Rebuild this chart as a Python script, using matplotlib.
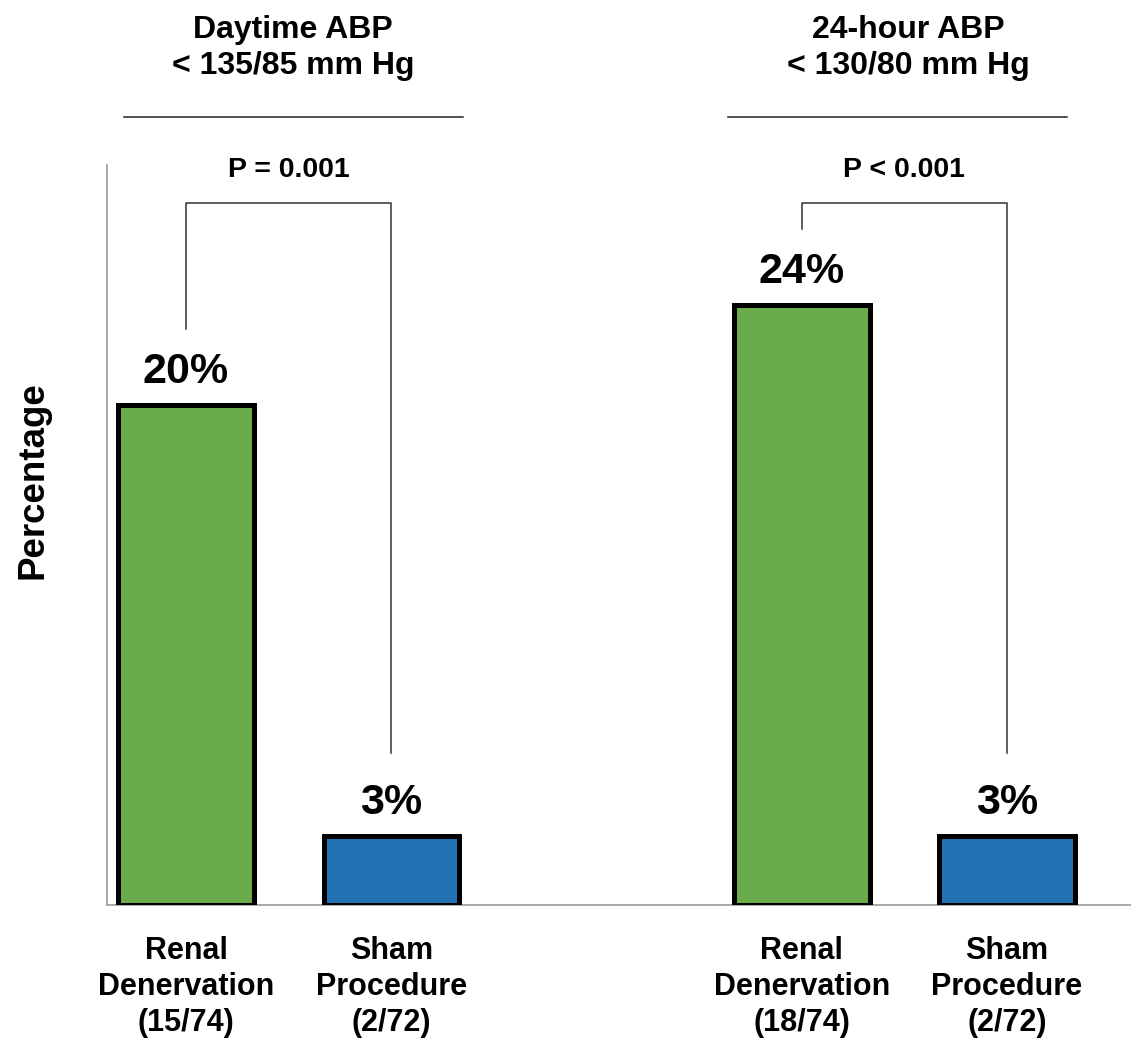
import numpy as np
import matplotlib
matplotlib.use('Agg')
import matplotlib.pyplot as plt

plt.rcParams['font.family'] = ['Liberation Sans', 'DejaVu Sans']
plt.rcParams['font.weight'] = 'bold'

# responders / patients per arm
groups = ['Daytime ABP\n< 135/85 mm Hg', '24-hour ABP\n< 130/80 mm Hg']
arms = ['Renal\nDenervation', 'Sham\nProcedure']
responders = [[15, 2], [18, 2]]
patients = [[74, 72], [74, 72]]
p_values = ['P = 0.001', 'P < 0.001']

colors = ['#6aac4c', '#2272b3']
positions = [[0, 1], [3, 4]]
rule_extent = [(-0.30, 1.35), (2.64, 4.29)]

fig = plt.figure(figsize=(11.31, 10.38), dpi=100)
ax = fig.add_axes([107/1131, 1 - 905/1038, 1024/1131, 740/1038])

ticks, ticklabels = [], []
for g in range(len(groups)):
    pct = [100 * r / n for r, n in zip(responders[g], patients[g])]
    x = positions[g]
    ax.bar(x, pct, width=0.66, color=colors, edgecolor='black', linewidth=3.6, zorder=3)
    for xi, v in zip(x, pct):
        ax.annotate(f'{v:.0f}%', (xi, v), xytext=(0, 16), textcoords='offset points',
                    ha='center', va='baseline', fontsize=31, fontweight='bold')
    for a in range(len(arms)):
        ticks.append(x[a])
        ticklabels.append(f'{arms[a]}\n({responders[g][a]}/{patients[g][a]})')

    # significance bracket
    top = 28.45
    ax.plot([x[0], x[0], x[1], x[1]], [pct[0] + 3.1, top, top, pct[1] + 3.4],
            color='#333333', lw=1.1, clip_on=False, zorder=2)
    ax.text(np.mean(x), 29.5, p_values[g], ha='center', va='baseline',
            fontsize=20.5, fontweight='bold')

    # group heading with rule underneath
    ax.text(np.mean(x) + 0.02, 34.75, groups[g], ha='center', va='center', fontsize=23,
            fontweight='bold', linespacing=1.27, clip_on=False)
    ax.plot(rule_extent[g], [31.95, 31.95], color='#222222', lw=1.1, clip_on=False)

ax.set_xlim(-0.385, 4.604)
ax.set_ylim(0, 30)
ax.set_xticks(ticks)
ax.set_xticklabels(ticklabels, fontsize=22, fontweight='bold', linespacing=1.27)
ax.tick_params(axis='x', length=0, pad=22)
ax.set_yticks([])
for s in ['top', 'right']:
    ax.spines[s].set_visible(False)
for s in ['left', 'bottom']:
    ax.spines[s].set_color('#999999')
    ax.spines[s].set_linewidth(1.2)

ax.text(-0.072, 0.574, 'Percentage', transform=ax.transAxes, rotation=90,
        ha='center', va='center', fontsize=26.5, fontweight='bold')

fig.savefig('out.png', dpi=100)
